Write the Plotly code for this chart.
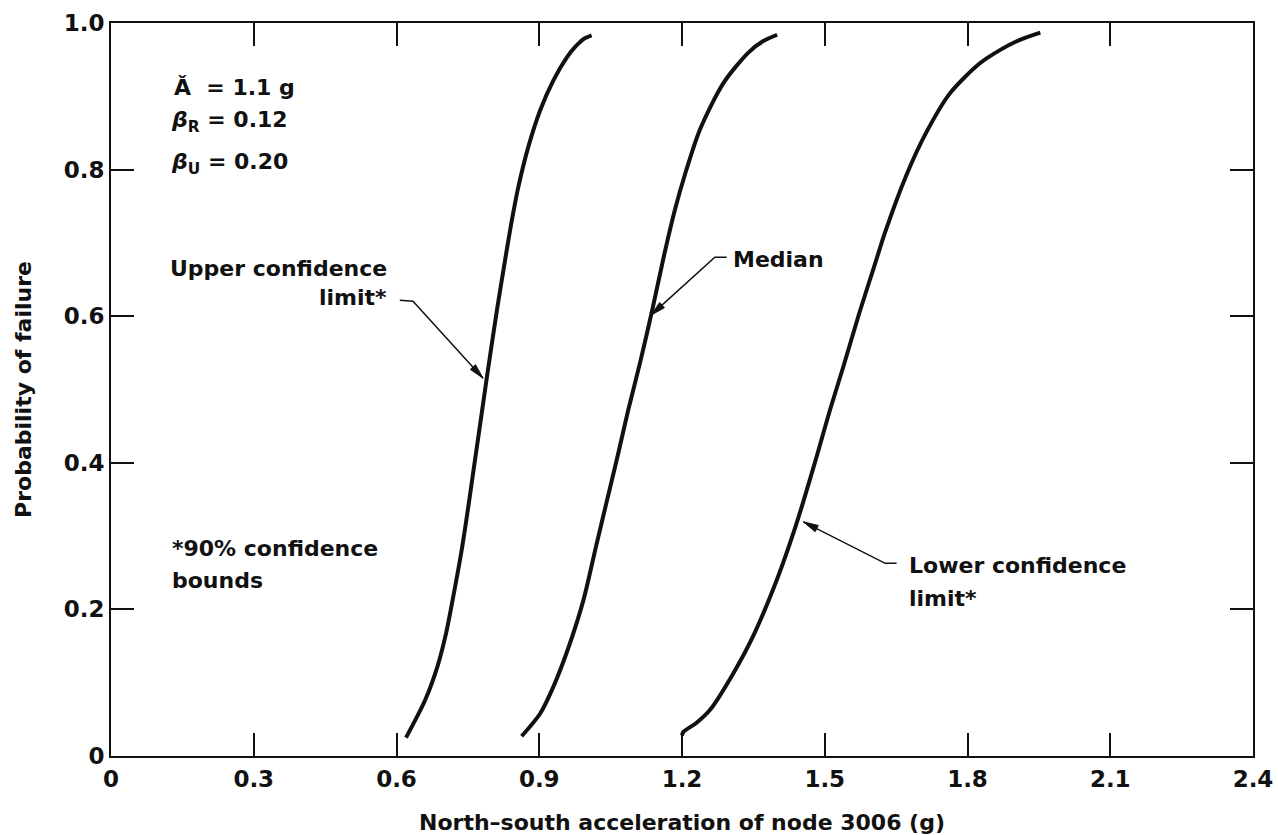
import math
import plotly.graph_objects as go

# ---- data ----
upper_x = [0.620, 0.660, 0.686, 0.704, 0.718, 0.737, 0.752, 0.763, 0.775, 0.790,
           0.811, 0.826, 0.840, 0.856, 0.877, 0.902, 0.930, 0.958, 0.975, 0.993, 1.010]
upper_y = [0.025, 0.076, 0.122, 0.167, 0.213, 0.281, 0.345, 0.395, 0.449, 0.517,
           0.608, 0.668, 0.722, 0.776, 0.831, 0.881, 0.922, 0.953, 0.967, 0.978, 0.983]

median_x = [0.863, 0.902, 0.930, 0.962, 0.993, 1.019, 1.041, 1.065, 1.087, 1.112,
            1.138, 1.163, 1.185, 1.207, 1.238, 1.287, 1.340, 1.370, 1.400]
median_y = [0.027, 0.058, 0.095, 0.149, 0.213, 0.285, 0.345, 0.410, 0.472, 0.537,
            0.610, 0.685, 0.745, 0.795, 0.855, 0.918, 0.960, 0.975, 0.984]

lower_x = [1.200, 1.203, 1.230, 1.259, 1.308, 1.352, 1.402, 1.434, 1.454, 1.485,
           1.511, 1.539, 1.572, 1.605, 1.626, 1.670, 1.712, 1.763, 1.826, 1.868,
           1.910, 1.953]
lower_y = [0.028, 0.033, 0.045, 0.063, 0.113, 0.167, 0.245, 0.304, 0.345, 0.413,
           0.472, 0.531, 0.603, 0.670, 0.713, 0.790, 0.849, 0.904, 0.945, 0.963,
           0.977, 0.987]

x_ticks = [0, 0.3, 0.6, 0.9, 1.2, 1.5, 1.8, 2.1, 2.4]
x_tick_labels = ["0", "0.3", "0.6", "0.9", "1.2", "1.5", "1.8", "2.1", "2.4"]
y_ticks = [0, 0.2, 0.4, 0.6, 0.8, 1.0]
y_tick_labels = ["0", "0.2", "0.4", "0.6", "0.8", "1.0"]

FONT = "DejaVu Sans, Verdana, sans-serif"
INK = "#111111"

W, H = 1278, 835
ML, MR, MT, MB = 111, 25, 23, 79
X_RANGE = [0, 2.4]
Y_RANGE = [0, 1.0]
PX_X = (W - ML - MR) / (X_RANGE[1] - X_RANGE[0])
PX_Y = (H - MT - MB) / (Y_RANGE[1] - Y_RANGE[0])

fig = go.Figure()
for name, xs, ys in [("Upper confidence limit", upper_x, upper_y),
                     ("Median", median_x, median_y),
                     ("Lower confidence limit", lower_x, lower_y)]:
    fig.add_trace(go.Scatter(x=xs, y=ys, mode="lines", name=name,
                             line=dict(color=INK, width=4, shape="spline", smoothing=0.8),
                             showlegend=False, hoverinfo="x+y+name"))

tickfont = dict(family=FONT, size=23, color=INK, weight="bold")
axis_common = dict(showline=True, linecolor=INK, linewidth=2, mirror="allticks",
                   ticks="inside", ticklen=23, tickwidth=1.5, tickcolor=INK,
                   showgrid=False, zeroline=False, tickfont=tickfont,
                   automargin=False)

fig.update_xaxes(range=X_RANGE, tickvals=x_ticks, ticktext=x_tick_labels,
                 ticklabelstandoff=1,
                 title=dict(text="North–south acceleration of node 3006 (g)",
                            font=dict(family=FONT, size=22, color=INK, weight="bold"),
                            standoff=33),
                 **axis_common)
fig.update_yaxes(range=Y_RANGE, tickvals=y_ticks, ticktext=y_tick_labels,
                 title=dict(text="Probability of failure",
                            font=dict(family=FONT, size=22, color=INK, weight="bold"),
                            standoff=26),
                 **axis_common)

af = dict(family=FONT, size=22, color=INK, weight="bold")
texts = [
    ("Ǎ  = 1.1 g", 0.128, 0.912, "left"),
    ("<i>β</i><sub>R</sub> = 0.12", 0.122, 0.866, "left"),
    ("<i>β</i><sub>U</sub> = 0.20", 0.122, 0.809, "left"),
    ("Upper confidence", 0.584, 0.6655, "right"),
    ("limit*", 0.584, 0.626, "right"),
    ("Median", 1.304, 0.678, "left"),
    ("Lower confidence", 1.672, 0.2605, "left"),
    ("limit*", 1.672, 0.2155, "left"),
    ("*90% confidence", 0.124, 0.2836, "left"),
    ("bounds", 0.124, 0.240, "left"),
]
for t, x, y, anchor in texts:
    fig.add_annotation(x=x, y=y, xref="x", yref="y", text=t, showarrow=False,
                       xanchor=anchor, yanchor="middle", font=af, align=anchor)

# leader lines: start of stub, bend, arrow tip (data units)
leaders = [
    ((0.607, 0.6217), (0.6347, 0.6205), (0.7818, 0.5155)),
    ((1.294, 0.6805), (1.269, 0.6805), (1.1348, 0.6014)),
    ((1.651, 0.2628), (1.627, 0.2628), (1.455, 0.3195)),
]
HEAD_LEN, HEAD_HALF = 15, 3.5
for (sx, sy), (bx, by), (tx, ty) in leaders:
    fig.add_shape(type="path", xref="x", yref="y",
                  path=f"M {sx},{sy} L {bx},{by} L {tx},{ty}",
                  line=dict(color=INK, width=1.5))
    dx, dy = (tx - bx) * PX_X, (ty - by) * PX_Y
    n = math.hypot(dx, dy)
    ux, uy = dx / n, dy / n
    px, py = -uy, ux
    base = (tx - HEAD_LEN * ux / PX_X, ty - HEAD_LEN * uy / PX_Y)
    c1 = (base[0] + HEAD_HALF * px / PX_X, base[1] + HEAD_HALF * py / PX_Y)
    c2 = (base[0] - HEAD_HALF * px / PX_X, base[1] - HEAD_HALF * py / PX_Y)
    fig.add_shape(type="path", xref="x", yref="y",
                  path=f"M {tx},{ty} L {c1[0]},{c1[1]} L {c2[0]},{c2[1]} Z",
                  fillcolor=INK, line=dict(color=INK, width=1))

fig.update_layout(width=W, height=H, margin=dict(l=ML, r=MR, t=MT, b=MB, autoexpand=False),
                  paper_bgcolor="white", plot_bgcolor="white",
                  font=dict(family=FONT, color=INK))

fig.write_html("out.html")
